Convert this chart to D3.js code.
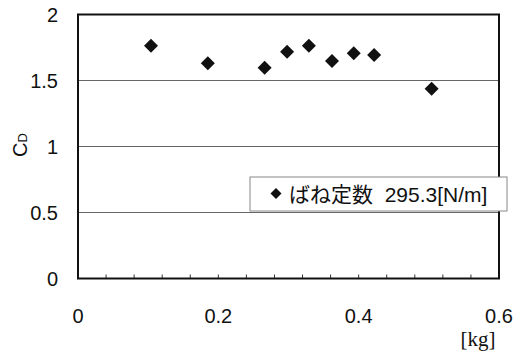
<!DOCTYPE html>
<html>
<head>
<meta charset="utf-8">
<script src="https://cdn.jsdelivr.net/npm/d3@7"></script>
<style>
  body { margin: 0; background: #fff; }
  text { font-family: "Liberation Sans", Arial, "Noto Sans CJK JP", sans-serif; fill: #111; }
</style>
</head>
<body>
<script>
// data
var massKg = [0.104, 0.185, 0.266, 0.298, 0.329, 0.362, 0.393, 0.422, 0.504];
var cdValues = [1.764, 1.630, 1.597, 1.718, 1.764, 1.648, 1.706, 1.693, 1.438];
var xTicks = [0, 0.2, 0.4, 0.6];
var yTicks = [0, 0.5, 1, 1.5, 2];
var seriesName = "ばね定数  295.3[N/m]";

var W = 514, H = 351;
var margin = {top: 14.5, right: 15, bottom: 72.5, left: 78};
var width = W - margin.left - margin.right,
    height = H - margin.top - margin.bottom;

var svg = d3.select("body").append("svg")
    .attr("width", W)
    .attr("height", H);
var g = svg.append("g")
    .attr("transform", "translate(" + margin.left + "," + margin.top + ")");

var x = d3.scaleLinear().domain([0, 0.6]).range([0, width]);
var y = d3.scaleLinear().domain([0, 2]).range([height, 0]);

// square diamond, r = half diagonal
function diamondPath(r) {
    return "M0," + (-r) + "L" + r + ",0L0," + r + "L" + (-r) + ",0Z";
}

// horizontal gridlines
g.selectAll(".grid")
    .data(yTicks.filter(function(d) { return d > 0 && d < 2; }))
    .enter().append("line")
    .attr("x1", 0).attr("x2", width)
    .attr("y1", function(d) { return y(d); })
    .attr("y2", function(d) { return y(d); })
    .style("stroke", "#666")
    .style("stroke-width", 1);

// small inward ticks along the bottom
var minor = d3.range(1, 15).map(function(i) { return i * 0.04; });
g.selectAll(".minor")
    .data(minor)
    .enter().append("line")
    .attr("x1", function(d) { return x(d); })
    .attr("x2", function(d) { return x(d); })
    .attr("y1", height).attr("y2", height - 4)
    .style("stroke", "#333")
    .style("stroke-width", 1);

// plot frame
g.append("rect")
    .attr("x", 0).attr("y", 0)
    .attr("width", width).attr("height", height)
    .style("fill", "none")
    .style("stroke", "#111")
    .style("stroke-width", 2);

// y tick labels
g.selectAll(".ylab")
    .data(yTicks)
    .enter().append("text")
    .attr("x", -20)
    .attr("y", function(d) { return y(d); })
    .attr("dy", "0.36em")
    .attr("text-anchor", "end")
    .style("font-size", "20px")
    .text(function(d) { return d; });

// x tick labels
g.selectAll(".xlab")
    .data(xTicks)
    .enter().append("text")
    .attr("x", function(d) { return x(d); })
    .attr("y", height + 37)
    .attr("dy", "0.36em")
    .attr("text-anchor", "middle")
    .style("font-size", "20px")
    .text(function(d) { return d; });

// x unit
svg.append("text")
    .attr("x", 478).attr("y", 346)
    .attr("text-anchor", "middle")
    .style("font-family", "'Liberation Serif', 'DejaVu Serif', serif")
    .style("font-size", "21px")
    .text("[kg]");

// y axis title C_D
var yt = svg.append("text")
    .attr("transform", "translate(26.5,145) rotate(-90)")
    .attr("text-anchor", "middle")
    .style("font-size", "20px");
yt.append("tspan").text("C");
yt.append("tspan").attr("dy", 0).style("font-size", "13px").text("D");

// diamond markers
g.selectAll(".pt")
    .data(massKg)
    .enter().append("path")
    .attr("d", diamondPath(7))
    .attr("transform", function(d, i) {
        return "translate(" + x(d) + "," + y(cdValues[i]) + ")";
    })
    .style("fill", "#111");

// legend
var lg = svg.append("g").attr("transform", "translate(250,177)");
lg.append("rect")
    .attr("width", 257).attr("height", 34)
    .style("fill", "#fff")
    .style("stroke", "#888")
    .style("stroke-width", 1);
lg.append("path")
    .attr("d", diamondPath(5.5))
    .attr("transform", "translate(26,16.5)")
    .style("fill", "#111");
lg.append("text")
    .attr("x", 39).attr("y", 17)
    .attr("dy", "0.36em")
    .style("font-size", "21px")
    .attr("xml:space", "preserve")
    .text(seriesName);
</script>
</body>
</html>
